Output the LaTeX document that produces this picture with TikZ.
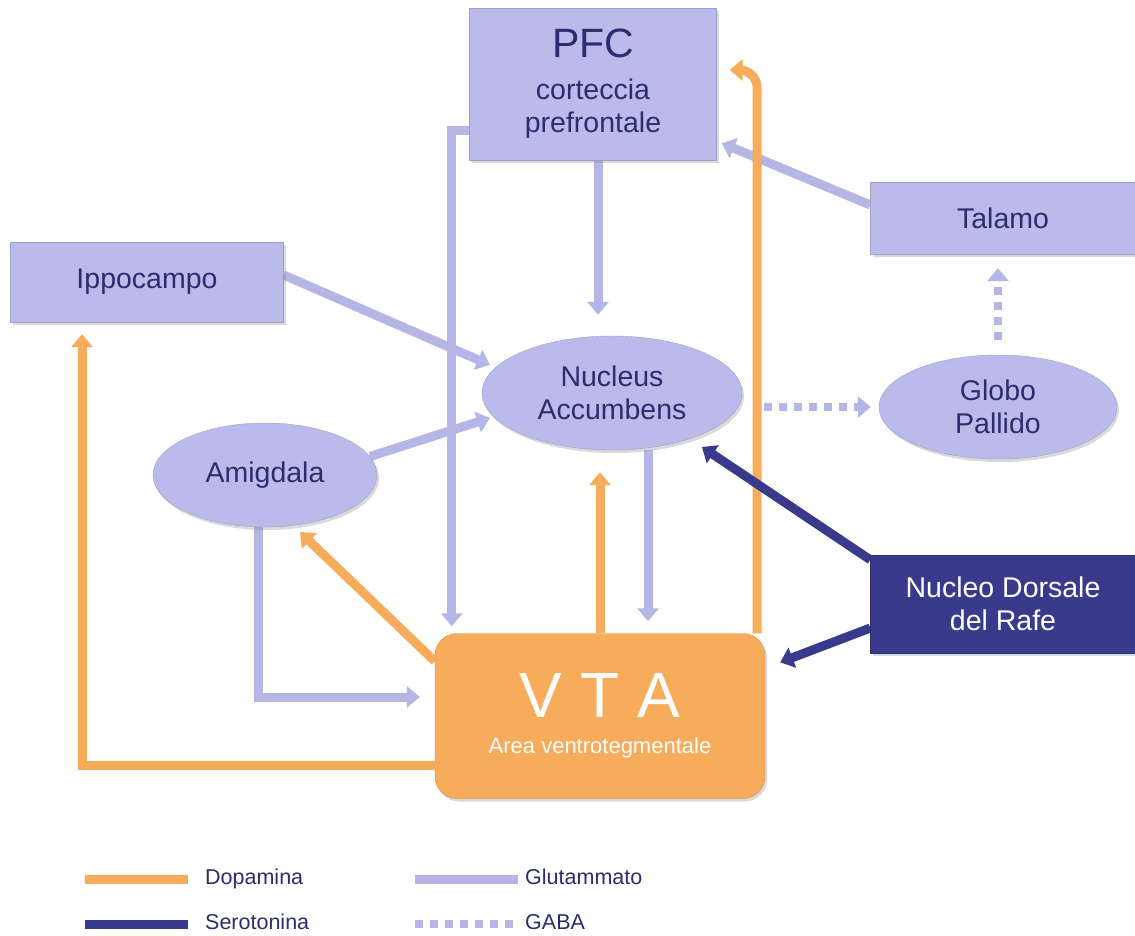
\documentclass[tikz,border=0pt]{standalone}
\usepackage{fontspec}
\setmainfont{Liberation Sans}
\usetikzlibrary{shapes.geometric,arrows.meta,shadows,positioning}
\definecolor{lila}{RGB}{187,187,235}
\definecolor{lilaline}{RGB}{182,182,230}
\definecolor{navy}{RGB}{58,58,140}
\definecolor{navytext}{RGB}{44,44,112}
\definecolor{dopaorange}{RGB}{247,172,92}
\pgfdeclarelayer{bg}
\pgfsetlayers{bg,main}
\tikzset{
    area/.style={rectangle,fill=lila,draw=lila!85!black,line width=0.4pt,text=navytext,align=center,inner sep=0pt,
        font=\fontsize{28.5}{33}\selectfont,drop shadow={opacity=0.3,shadow xshift=2pt,shadow yshift=-3pt}},
    nucleus/.style={area,ellipse},
    rafe/.style={area,fill=navy,draw=navy!80!black,text=white},
    vtabox/.style={area,fill=dopaorange,draw=dopaorange!85!black,text=white,rounded corners=22pt,font=\fontsize{22}{26}\selectfont},
    glutline/.style={draw=lilaline,line width=9pt},
    dopaline/.style={glutline,draw=dopaorange},
    seroline/.style={glutline,draw=navy},
    gabaline/.style={glutline,line width=8pt,dash pattern=on 8pt off 7pt},
    tip/.style={-{Triangle[length=13pt,width=21pt]}},
    glut/.style={glutline,tip},
    dopa/.style={dopaline,tip},
    sero/.style={seroline,tip},
    gaba/.style={gabaline,tip},
    legend/.style={anchor=west,inner sep=0pt,text height=16pt,text depth=5pt,text=navytext,font=\fontsize{21.5}{25}\selectfont},
    }
\begin{document}
\begin{tikzpicture}[x=1pt,y=-1pt]
    \useasboundingbox (0,0) rectangle (1135,936);
    \node[area,minimum width=247pt,minimum height=152pt] (pfc) at (593,84)
        {{\fontsize{41}{44}\selectfont PFC}\\[9pt]corteccia\\prefrontale};
    \node[area,minimum width=265pt,minimum height=72pt] (talamo) at (1003,218) {Talamo};
    \node[area,minimum width=273pt,minimum height=80pt] (ippo) at (147,282) {Ippocampo};
    \node[nucleus,minimum width=260pt,minimum height=114pt] (nacc) at (612,393) {Nucleus\\Accumbens};
    \node[nucleus,minimum width=238pt,minimum height=104pt] (gp) at (998,407) {Globo\\Pallido};
    \node[nucleus,minimum width=224pt,minimum height=104pt] (amig) at (265,475) {Amigdala};
    \node[rafe,minimum width=265pt,minimum height=98pt] (ndr) at (1003,604) {Nucleo Dorsale\\del Rafe};
    \node[vtabox,minimum width=330pt,minimum height=165pt] (vta) at (600,716)
        {{\fontsize{64}{64}\selectfont V T A}\\[10pt]Area ventrotegmentale};

    \begin{pgfonlayer}{bg}
    % glutammato
    \draw[glut,shorten >=21pt] ([xshift=5pt]pfc.south) -- ([xshift=5pt]pfc.south |- nacc.north);
    \draw[glut,shorten >=7pt] ([yshift=30pt]pfc.south west) -| ([xshift=17pt]vta.north west);
    \draw[glut] ([yshift=13pt]talamo.west) -- ([shift={(5pt,17pt)}]pfc.south east);
    \draw[glut] ([yshift=7pt]ippo.east) -- ([shift={(-122pt,28pt)}]nacc.center);
    \draw[glut] (amig.10) -- ([shift={(-122pt,-25pt)}]nacc.center);
    \draw[glut,shorten >=15pt] ([xshift=-7pt]amig.south) |- ([yshift=19pt]vta.west);
    \draw[glut,shorten >=12pt] ([xshift=36pt]nacc.south) -- ([xshift=36pt]nacc.south |- vta.north);
    % GABA
    \draw[gaba,shorten <=15pt,shorten >=14pt] (gp.north) -- (gp.north |- talamo.south);
    \draw[gaba,shorten <=22pt,shorten >=8pt] ([yshift=-14pt]nacc.east) -- (gp.west);
    % dopamina
    \draw[dopa,shorten >=22pt] (vta.north) -- (vta.north |- nacc.south);
    \draw[dopa,rounded corners=18pt] ([xshift=-8pt]vta.north east) |- ([shift={(13pt,14pt)}]pfc.east);
    \draw[dopa] ([yshift=-28pt]vta.north west) -- ([shift={(35pt,-57pt)}]amig.center);
    \draw[dopa,shorten >=12pt] ([yshift=-49pt]vta.west) -| ([xshift=-65pt]ippo.south);
    % serotonina
    \draw[sero] ([yshift=-5pt]ndr.north west) -- ([shift={(90pt,-54pt)}]nacc.center);
    \draw[sero] ([yshift=-24pt]ndr.west) -- ([shift={(15pt,-29pt)}]vta.north east);
    \end{pgfonlayer}

    % legenda
    \coordinate (dopaA) at (85,879);
    \coordinate (dopaB) at (188,879);
    \coordinate (seroA) at (85,924);
    \coordinate (seroB) at (188,924);
    \coordinate (glutA) at (415,879);
    \coordinate (glutB) at (518,879);
    \coordinate (gabaA) at (415,924);
    \coordinate (gabaB) at (518,924);
    \draw[dopaline] (dopaA) -- (dopaB);
    \draw[seroline] (seroA) -- (seroB);
    \draw[glutline] (glutA) -- (glutB);
    \draw[gabaline] (gabaA) -- (gabaB);
    \node[legend,right=17pt of dopaB] (ldopa) {Dopamina};
    \node[legend,right=17pt of seroB] (lsero) {Serotonina};
    \node[legend,right=7pt of glutB] (lglut) {Glutammato};
    \node[legend,right=7pt of gabaB] (lgaba) {GABA};
\end{tikzpicture}
\end{document}
